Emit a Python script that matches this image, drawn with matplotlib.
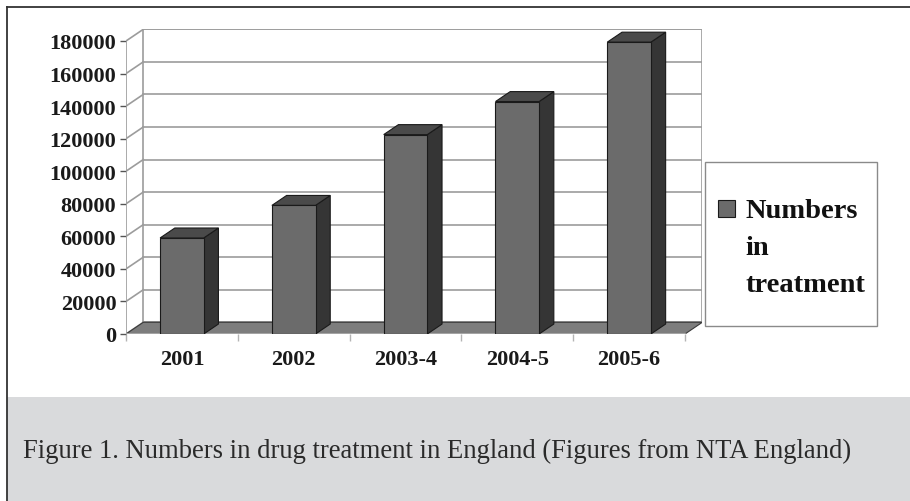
import matplotlib
matplotlib.use('Agg')
import matplotlib.pyplot as plt
from matplotlib.patches import Polygon, Rectangle
from matplotlib.lines import Line2D

categories = ['2001', '2002', '2003-4', '2004-5', '2005-6']
values = [59000, 79000, 122500, 142800, 179300]
yticks = list(range(0, 180001, 20000))
series_name = 'Numbers\nin\ntreatment'
caption = 'Figure 1. Numbers in drug treatment in England (Figures from NTA England)'

W, H = 910, 502
fig = plt.figure(figsize=(W / 100, H / 100), dpi=100)
serif = 'Liberation Serif'

# front plane of the 3d box, in pixels
x_left, x_right = 126, 685
y_zero, y_top = 335, 42
n = len(categories)
ymax = yticks[-1]
px_per_cat = (x_right - x_left) / n
px_per_val = (y_zero - y_top) / ymax
DX = 0.155   # depth offset, category units
DY = 7200    # depth offset, value units
ax_right = x_right + DX * px_per_cat
ax_top = y_top - DY * px_per_val

# grey caption band + frame
fig.add_artist(Rectangle((7 / W, 0), 1 - 7 / W, (502 - 398) / H, transform=fig.transFigure,
                         facecolor='#d9dadc', edgecolor='none', zorder=0))
fig.add_artist(Line2D([7 / W, 7 / W], [0, 1 - 8 / H], transform=fig.transFigure, color='#333333', lw=1.3))
fig.add_artist(Line2D([7 / W, 1], [1 - 8 / H, 1 - 8 / H], transform=fig.transFigure, color='#333333', lw=1.3))

ax = fig.add_axes([x_left / W, 1 - y_zero / H, (ax_right - x_left) / W, (y_zero - ax_top) / H])
ax.set_xlim(-0.5, n - 0.5 + DX)
ax.set_ylim(0, ymax + DY)
ax.patch.set_visible(False)
for s in ax.spines.values():
    s.set_visible(False)

grid_c = '#9c9c9c'
# back wall and gridlines
ax.add_patch(Rectangle((-0.5 + DX, DY), n, ymax, facecolor='white', edgecolor=grid_c, lw=1.2, zorder=1))
for t in yticks:
    ax.plot([-0.5 + DX, n - 0.5 + DX], [t + DY, t + DY], color=grid_c, lw=1.2, zorder=2)
    ax.plot([-0.5, -0.5 + DX], [t, t + DY], color=grid_c, lw=1.2, zorder=2)
ax.plot([-0.5, -0.5], [0, ymax], color=grid_c, lw=1.2, zorder=2)

# floor
ax.add_patch(Polygon([(-0.5, 0), (n - 0.5, 0), (n - 0.5 + DX, DY), (-0.5 + DX, DY)], closed=True,
                     facecolor='#7d7d7d', edgecolor='#3a3a3a', lw=0.8, zorder=3))
ax.plot([-0.5, n - 0.5], [0, 0], color='#b4b4b4', lw=1.2, zorder=3)

# bars: front face + side + top
bar_w = 0.39
depth = 0.85
bars = ax.bar(range(n), values, width=bar_w, color='#6b6b6b', edgecolor='#1a1a1a', lw=0.8, zorder=5)
ddx, ddy = depth * DX, depth * DY
for rect, v in zip(bars, values):
    x0 = rect.get_x()
    x1 = x0 + rect.get_width()
    ax.add_patch(Polygon([(x1, 0), (x1 + ddx, ddy), (x1 + ddx, v + ddy), (x1, v)], closed=True,
                         facecolor='#353535', edgecolor='#1a1a1a', lw=0.8, zorder=4))
    ax.add_patch(Polygon([(x0, v), (x1, v), (x1 + ddx, v + ddy), (x0 + ddx, v + ddy)], closed=True,
                         facecolor='#4a4a4a', edgecolor='#1a1a1a', lw=0.8, zorder=4))

ax.set_yticks(yticks)
ax.set_yticklabels([str(t) for t in yticks], fontfamily=serif, fontweight='bold', fontsize=16, color='#1a1a1a')
ax.tick_params(axis='y', length=4, width=1, color='#555555', pad=3)
ax.set_xticks(range(n))
ax.set_xticklabels(categories, fontfamily=serif, fontweight='bold', fontsize=16, color='#1a1a1a')
ax.set_xticks([i - 0.5 for i in range(n + 1)], minor=True)
ax.tick_params(axis='x', which='major', length=0, pad=11)
ax.tick_params(axis='x', which='minor', length=5, width=1, color='#b4b4b4')

# legend box
fig.add_artist(Rectangle((705 / W, 1 - 327 / H), (877 - 705) / W, (327 - 163) / H, transform=fig.transFigure,
                         facecolor='white', edgecolor='#8a8a8a', lw=1))
fig.add_artist(Rectangle((718 / W, 1 - 218 / H), 17 / W, 17 / H, transform=fig.transFigure,
                         facecolor='#6b6b6b', edgecolor='#1a1a1a', lw=0.8))
fig.text(745 / W, 1 - 199 / H, series_name, va='top', ha='left', fontsize=20.5, fontweight='bold',
         family=serif, linespacing=1.62, color='#111111')

fig.text(23 / W, 1 - 458 / H, caption, va='baseline', ha='left', fontsize=19.2, family=serif, color='#2a2a2a')

fig.savefig('out.png', dpi=100)
